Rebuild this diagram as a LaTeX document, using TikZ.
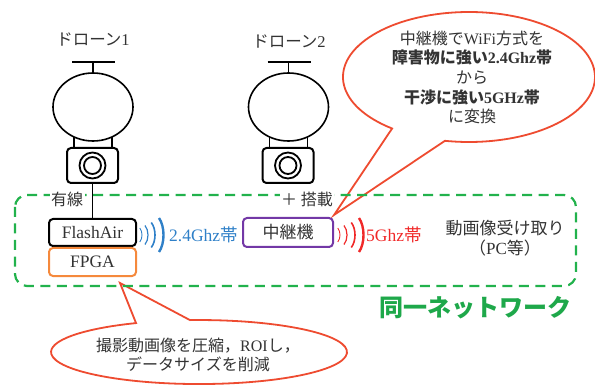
\documentclass[tikz,border=0pt]{standalone}
\usepackage{fontspec}
\setmainfont{Liberation Serif}
\newfontfamily\jp{Noto Sans CJK JP}
\usetikzlibrary{shapes.geometric}

\definecolor{textgray}{HTML}{333333}
\definecolor{netgreen}{HTML}{22B24C}
\definecolor{netgreentext}{HTML}{1EA84A}
\definecolor{wblue}{HTML}{2F80C8}
\definecolor{wred}{HTML}{F02828}
\definecolor{callred}{HTML}{EE4B30}
\definecolor{fpgaorange}{HTML}{F5893C}
\definecolor{relaypurple}{HTML}{7338A6}

% Japanese text inside a serif (Latin) line
\newcommand{\J}[1]{{\jp #1}}
% one radio wave arc: right-most x, centre y, half height, bulge, style
\newcommand{\wavearc}[5]{%
  \draw[#5] (#1-0.75*#4, #2-#3) .. controls (#1+0.25*#4, #2-0.5*#3)
    and (#1+0.25*#4, #2+0.5*#3) .. (#1-0.75*#4, #2+#3);}

\begin{document}
\begin{tikzpicture}[x=1pt,y=-1pt,
  txt/.style={text=textgray, inner sep=0pt, font=\fontsize{16}{19.6}\selectfont},
  dronebody/.style={ellipse, draw, fill=white, line width=1.6pt,
    minimum width=80pt, minimum height=68pt, inner sep=0pt},
  cambox/.style={draw, fill=white, rounded corners=4pt, line width=2pt,
    minimum width=51pt, minimum height=35pt, inner sep=0pt},
  lensring/.style={circle, draw, line width=1.8pt, inner sep=0pt},
  unitbox/.style={draw, rounded corners=4pt, line width=2pt, minimum width=87pt,
    inner sep=0pt, text=textgray, font=\fontsize{17.5}{20}\selectfont},
  onlabel/.style={txt, fill=white, inner sep=1.5pt},
  callout/.style={draw=callred, fill=white, line width=1.8pt, line join=miter},
  net/.style={draw=netgreen, line width=2.2pt, dash pattern=on 10pt off 6.5pt,
    rounded corners=12pt},
]
\useasboundingbox (0,0) rectangle (595,385);

% speech bubbles
\draw[callout] (334,215) -- (392.1,128.5)
  arc[start angle=127.6, end angle=461, x radius=126, y radius=65] -- cycle;
\node[txt, align=center] (relaynote) at (472,77.5)
  {\J{中継機で}WiFi\J{方式を}\\
   {\bfseries\J{障害物に強い}2.4Ghz\J{帯}}\\
   \J{から}\\
   {\bfseries\J{干渉に強い}5GHz\J{帯}}\\
   \J{に変換}};

\draw[callout] (120,283) -- (190,320.1)
  arc[start angle=266.5, end angle=604.8, x radius=148, y radius=32] -- cycle;
\node[txt, align=center] (fpganote) at (198,355)
  {\J{撮影動画像を圧縮，}ROI\J{し，}\\ \J{データサイズを削減}};

% the two drones
\foreach \i/\dx in {1/0, 2/195.5} {
  \draw[line width=2.6pt] (72+\dx,62) -- (115+\dx,62);
  \draw[line width=1.6pt] (74+\dx,130) -- (74+\dx,148);
  \draw[line width=1.6pt] (112+\dx,130) -- (112+\dx,148);
  \node[dronebody] (body\i) at (93+\dx,107) {};
  \draw[line width=1.6pt] (93+\dx,62) -- (body\i.north);
  \node[cambox] (cam\i) at (92.5+\dx,165.5) {};
  \node[lensring, minimum size=26pt] (lensout\i) at (cam\i.center) {};
  \node[lensring, minimum size=17pt] (lensin\i) at (cam\i.center) {};
}
\node[txt, font=\fontsize{16.5}{20}\selectfont] (d1label) at (93,40) {\J{ドローン}1};
\node[txt, font=\fontsize{16.5}{20}\selectfont] (d2label) at (289,42) {\J{ドローン}2};

% same network
\draw[net] (15,195) rectangle (576,286);
\node[onlabel] (wired) at (67,199) {\J{有線}};
\node[onlabel] (mounted) at (307,199) {\J{＋ 搭載}};

% units
\node[unitbox, draw=black, minimum height=27pt] (flashair) at (92.5,232.5) {FlashAir};
\node[unitbox, draw=fpgaorange, minimum height=28pt] (fpga) at (92.5,262) {FPGA};
\node[unitbox, draw=relaypurple, minimum width=90pt, minimum height=29pt,
  font=\jp\fontsize{17}{20}\selectfont] (relay) at (288,232.5) {中継機};
\draw[line width=1pt] (cam1.south) -- (flashair.north);

% radio waves
\wavearc{142}{235}{7}{3}{wblue, line width=0.9pt}
\wavearc{148}{235}{9.5}{4}{wblue, line width=1.2pt}
\wavearc{155}{235}{12.5}{5}{wblue, line width=1.6pt}
\wavearc{163.5}{235}{17}{6}{wblue, line width=2.4pt}
\node[txt, text=wblue, anchor=west, font=\fontsize{17.5}{20}\selectfont]
  (band24) at (169,235) {2.4Ghz\J{帯}};

\wavearc{340}{235}{7}{3}{wred, line width=0.9pt}
\wavearc{347}{235}{9.5}{4}{wred, line width=1.2pt}
\wavearc{355}{235}{12.5}{5}{wred, line width=1.6pt}
\wavearc{363.5}{235}{17}{6}{wred, line width=2.4pt}
\node[txt, text=wred, anchor=west, font=\fontsize{17.5}{20}\selectfont]
  (band5) at (366,235) {5Ghz\J{帯}};

% receiver
\node[txt, align=center, font=\fontsize{17}{20}\selectfont] (receiver) at (505,238)
  {\J{動画像受け取り}\\ \J{（}PC\J{等）}};

\node[txt, text=netgreentext, font=\jp\bfseries\fontsize{24}{27}\selectfont]
  (netname) at (475,308) {同一ネットワーク};
\end{tikzpicture}
\end{document}
